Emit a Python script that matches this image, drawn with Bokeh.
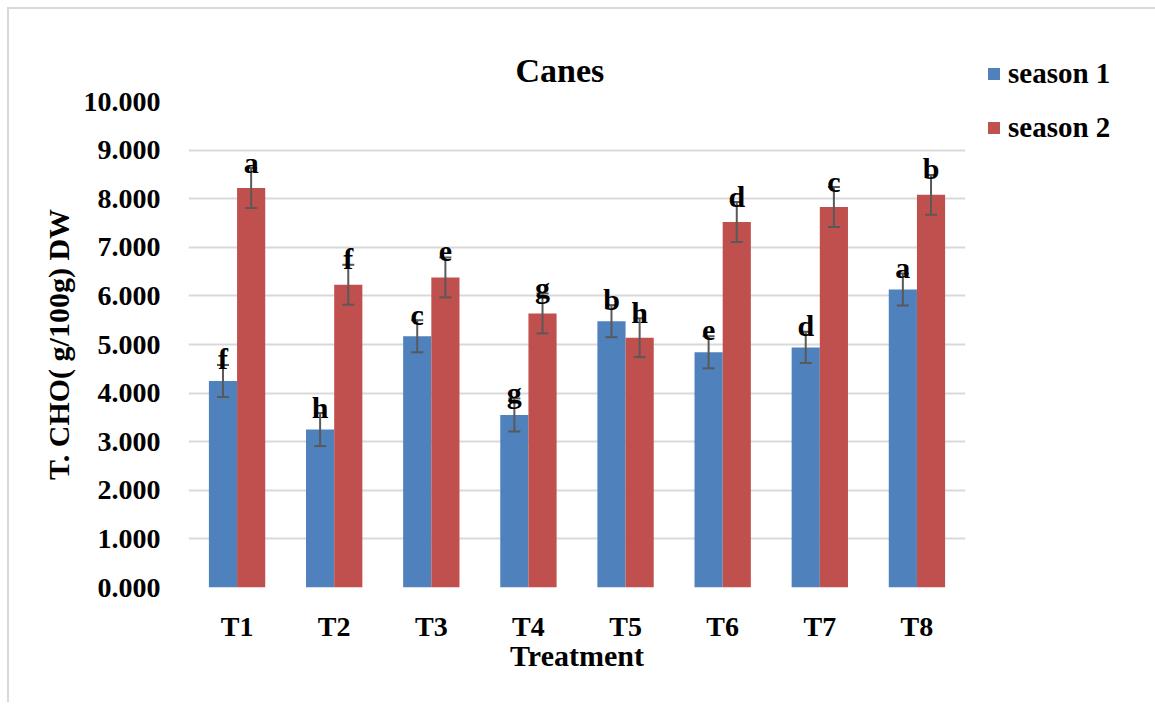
from bokeh.plotting import figure
from bokeh.models import (ColumnDataSource, FactorRange, Range1d, FixedTicker, Whisker,
                          TeeHead, Legend, LegendItem)
from bokeh.transform import dodge
from bokeh.core.properties import value
from bokeh.embed import file_html
from bokeh.resources import INLINE

# ---- data ----
treatments = ["T1", "T2", "T3", "T4", "T5", "T6", "T7", "T8"]
season1 = [4.25, 3.25, 5.17, 3.55, 5.48, 4.84, 4.94, 6.13]
season2 = [8.22, 6.23, 6.38, 5.64, 5.14, 7.52, 7.83, 8.08]
err1 = [0.33, 0.34, 0.33, 0.34, 0.33, 0.33, 0.32, 0.33]
err2 = [0.41, 0.41, 0.41, 0.41, 0.40, 0.41, 0.41, 0.41]
letters1 = ["f", "h", "c", "g", "b", "e", "d", "a"]
letters2 = ["a", "f", "e", "g", "h", "d", "c", "b"]
series_names = ["season 1", "season 2"]
y_ticks = [0, 1, 2, 3, 4, 5, 6, 7, 8, 9, 10]
y_tick_labels = ["0.000", "1.000", "2.000", "3.000", "4.000", "5.000",
                 "6.000", "7.000", "8.000", "9.000", "10.000"]
title_text = "Canes"
x_title = "Treatment"
y_title = "T. CHO( g/100g) DW"

FONT = "'Liberation Serif', serif"
BLUE = "#4f81bd"
RED = "#c0504d"
ERR = "#595959"

src = ColumnDataSource(dict(
    t=treatments, s1=season1, s2=season2,
    s1_up=[v + e for v, e in zip(season1, err1)],
    s1_lo=[v - e for v, e in zip(season1, err1)],
    s2_up=[v + e for v, e in zip(season2, err2)],
    s2_lo=[v - e for v, e in zip(season2, err2)],
    l1=letters1, l2=letters2,
))

p = figure(x_range=FactorRange(factors=treatments, range_padding=0),
           y_range=Range1d(0, 10),
           frame_width=777, frame_height=486,
           min_border_left=179, min_border_right=180,
           min_border_top=92, min_border_bottom=115,
           output_backend="svg", toolbar_location=None)
p.styles = {"margin-left": "7px", "margin-top": "7px",
            "border-left": "2px solid #d9d9d9", "border-top": "2px solid #d9d9d9"}
p.outline_line_color = None
p.background_fill_color = "white"
p.border_fill_color = "white"

# title
p.title.text = title_text
p.title.text_font = FONT
p.title.text_font_style = "bold"
p.title.text_font_size = "34px"
p.title.text_color = "black"
p.title.align = "left"
p.title.offset = 327
p.title.standoff = 25

OFF = 0.145
W = 0.29
r1 = p.vbar(x=dodge("t", -OFF, range=p.x_range), top="s1", width=W, source=src,
            fill_color=BLUE, line_color=None)
r2 = p.vbar(x=dodge("t", OFF, range=p.x_range), top="s2", width=W, source=src,
            fill_color=RED, line_color=None)

for base_off, up, lo in [(-OFF, "s1_up", "s1_lo"), (OFF, "s2_up", "s2_lo")]:
    w = Whisker(base=dodge("t", base_off, range=p.x_range), upper=up, lower=lo, source=src,
                line_color=ERR, line_width=2, level="annotation",
                upper_head=TeeHead(size=12, line_color=ERR, line_width=2),
                lower_head=TeeHead(size=12, line_color=ERR, line_width=2))
    p.add_layout(w)

for off, col, up in [(-OFF, "l1", "s1_up"), (OFF, "l2", "s2_up")]:
    p.text(x=dodge("t", off, range=p.x_range), y=up, text=col, source=src,
           text_font=value(FONT), text_font_style="bold", text_font_size="30px",
           text_align="center", text_baseline="alphabetic", y_offset=-6,
           text_color="black", level="overlay")

# axes
p.xaxis.axis_label = x_title
p.yaxis.axis_label = y_title
for ax in (p.xaxis[0], p.yaxis[0]):
    ax.axis_line_color = None
    ax.major_tick_line_color = None
    ax.minor_tick_line_color = None
    ax.major_label_text_font = FONT
    ax.major_label_text_font_style = "bold"
    ax.major_label_text_font_size = "28px"
    ax.major_label_text_color = "black"
    ax.axis_label_text_font = FONT
    ax.axis_label_text_font_style = "bold"
    ax.axis_label_text_font_size = "30px"
    ax.axis_label_text_color = "black"
p.xaxis.major_label_standoff = 17
p.xaxis.axis_label_standoff = -6
p.yaxis.major_label_standoff = 22
p.yaxis.axis_label_standoff = 6
p.yaxis.ticker = FixedTicker(ticks=y_ticks)
p.yaxis.major_label_overrides = {t: l for t, l in zip(y_ticks, y_tick_labels)}

p.xgrid.grid_line_color = None
p.ygrid.ticker = FixedTicker(ticks=y_ticks)
p.ygrid.grid_line_color = "#d9d9d9"
p.ygrid.grid_line_width = 2

legend = Legend(items=[LegendItem(label=series_names[0], renderers=[r1]),
                       LegendItem(label=series_names[1], renderers=[r2])],
                location=(21, 443), orientation="vertical",
                glyph_width=15, glyph_height=15, label_height=34, spacing=20,
                label_standoff=7, padding=0, margin=0,
                border_line_color=None, background_fill_alpha=0,
                label_text_font=FONT, label_text_font_style="bold",
                label_text_font_size="29px", label_text_color="black")
p.add_layout(legend, "right")

open("out.html", "w").write(file_html(p, INLINE))
